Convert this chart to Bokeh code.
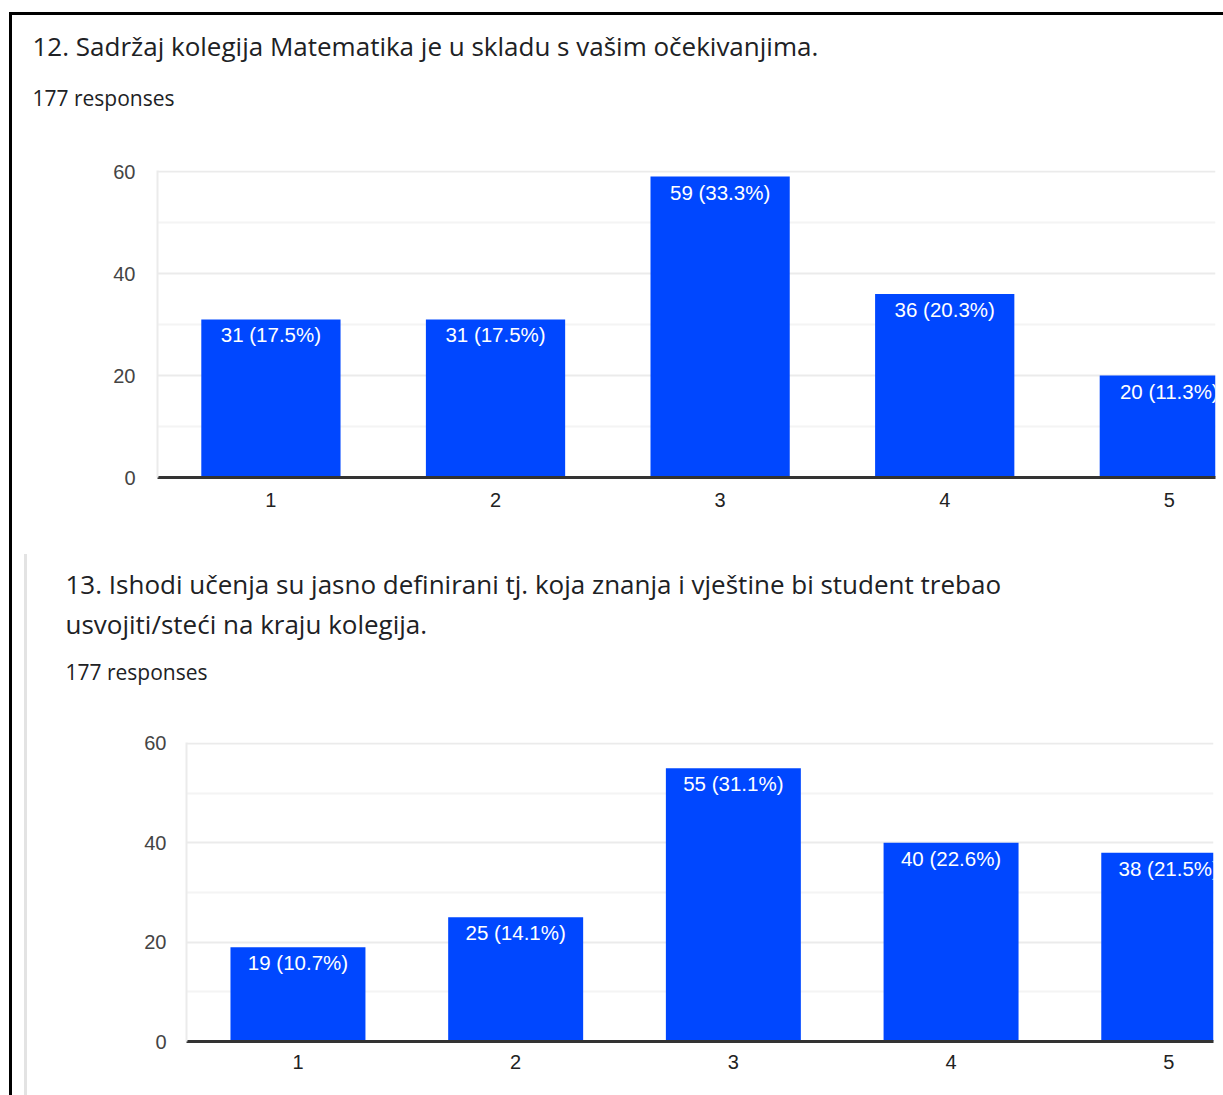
from bokeh.plotting import figure
from bokeh.layouts import column
from bokeh.models import ColumnDataSource, FixedTicker, Title
from bokeh.core.properties import value
from bokeh.embed import file_html
from bokeh.resources import INLINE

# ---- data ----
categories = ["1", "2", "3", "4", "5"]
q12_counts = [31, 31, 59, 36, 20]
q12_labels = ["31 (17.5%)", "31 (17.5%)", "59 (33.3%)", "36 (20.3%)", "20 (11.3%)"]
q13_counts = [19, 25, 55, 40, 38]
q13_labels = ["19 (10.7%)", "25 (14.1%)", "55 (31.1%)", "40 (22.6%)", "38 (21.5%)"]
y_ticks = [0, 20, 40, 60]
y_minor_ticks = [10, 30, 50]
q12_title = ["12. Sadržaj kolegija Matematika je u skladu s vašim očekivanjima."]
q13_title = ["13. Ishodi učenja su jasno definirani tj. koja znanja i vještine bi student trebao",
             "usvojiti/steći na kraju kolegija."]
responses_text = "177 responses"

BAR_COLOR = "#0047ff"
TITLE_FONT = "Open Sans"
TITLE_SIZE = 26
RESP_SIZE = 21
ASC, DESC = 1.069, 0.293   # font box metrics (em)


def make_chart(counts, labels, title_lines, title_baselines, resp_baseline, frame_top,
               title_offset, width, height, mb_left, mb_right, mb_top, mb_bottom,
               x_start, x_end, x_label_standoff, y_label_standoff, styles=None):
    xs = list(range(1, len(categories) + 1))
    src = ColumnDataSource(dict(x=xs, top=counts, label=labels))
    kw = dict(width=width, height=height, output_backend="svg", toolbar_location=None,
              x_range=(x_start, x_end), y_range=(0, 60.2), title=None,
              min_border_left=mb_left, min_border_right=mb_right,
              min_border_top=mb_top, min_border_bottom=mb_bottom)
    if styles:
        kw["styles"] = styles
    p = figure(**kw)
    p.frame_align = False
    p.outline_line_color = None
    p.background_fill_color = "white"
    p.border_fill_color = "white"

    p.vbar(x="x", top="top", width=0.62, source=src, fill_color=BAR_COLOR, line_color=None)
    p.text(x="x", y="top", text="label", source=src, text_align="center", text_baseline="top",
           y_offset=4, text_color="white", text_font=value("Liberation Sans"),
           text_font_size="20.5px")

    # axes
    p.xaxis.ticker = FixedTicker(ticks=xs)
    p.xaxis.major_label_overrides = {x: c for x, c in zip(xs, categories)}
    p.xaxis.axis_line_color = "#333333"
    p.xaxis.axis_line_width = 3
    p.xaxis.major_tick_line_color = None
    p.xaxis.minor_tick_line_color = None
    p.xaxis.major_tick_out = 0
    p.xaxis.major_tick_in = 0
    p.xaxis.major_label_standoff = x_label_standoff
    p.xaxis.major_label_text_font = "Liberation Sans"
    p.xaxis.major_label_text_font_size = "20px"
    p.xaxis.major_label_text_color = "#222222"

    p.yaxis.ticker = FixedTicker(ticks=y_ticks, minor_ticks=y_minor_ticks)
    p.yaxis.axis_line_color = "#ebebeb"
    p.yaxis.axis_line_width = 2
    p.yaxis.major_tick_line_color = None
    p.yaxis.minor_tick_line_color = None
    p.yaxis.major_tick_out = 0
    p.yaxis.major_tick_in = 0
    p.yaxis.major_label_standoff = y_label_standoff
    p.yaxis.major_label_text_font = "Liberation Sans"
    p.yaxis.major_label_text_font_size = "20px"
    p.yaxis.major_label_text_color = "#444444"

    p.xgrid.grid_line_color = None
    p.ygrid.grid_line_color = "#ebebeb"
    p.ygrid.grid_line_width = 2
    p.ygrid.minor_grid_line_color = "#f4f4f4"
    p.ygrid.minor_grid_line_width = 2

    # titles: stacked outward from the frame; standoffs chosen to hit page baselines
    # (a negative panel size is laid out as zero height)
    h_r = (ASC + DESC) * RESP_SIZE
    h_t = (ASC + DESC) * TITLE_SIZE
    s_r = 2 * (frame_top - (resp_baseline + DESC * RESP_SIZE))
    panel_top = frame_top - max(0, 2 + h_r + s_r)
    p.add_layout(Title(text=responses_text, align="left", offset=title_offset,
                       standoff=s_r, text_font=TITLE_FONT, text_font_size=f"{RESP_SIZE}px",
                       text_font_style="normal", text_color="#202124"), "above")
    for line, base in reversed(list(zip(title_lines, title_baselines))):
        s = 2 * (panel_top - (base + DESC * TITLE_SIZE))
        p.add_layout(Title(text=line, align="left", offset=title_offset, standoff=s,
                           text_font=TITLE_FONT, text_font_size=f"{TITLE_SIZE}px",
                           text_font_style="normal", text_color="#202124"), "above")
        panel_top = panel_top - max(0, 2 + h_t + s)
    return p


# chart 1: page origin (12, 15); frame left 157, right 1215, top 170, bottom 477
p1 = make_chart(q12_counts, q12_labels, q12_title, [56], 105, 170, 32 - 157,
                width=1211, height=530, mb_left=145, mb_right=8, mb_top=155, mb_bottom=68,
                x_start=0.495, x_end=0.495 + 1058 / 224.6,
                x_label_standoff=15, y_label_standoff=18)

# chart 2: page origin (27, 554); frame left 186, right 1213, top 742, bottom 1041
p2 = make_chart(q13_counts, q13_labels, q13_title, [594, 634], 679, 742, 65 - 186,
                width=1196, height=541, mb_left=159, mb_right=10, mb_top=188, mb_bottom=54,
                x_start=0.488, x_end=0.488 + 1027 / 217.7,
                x_label_standoff=13, y_label_standoff=16,
                styles={"margin-left": "12px", "margin-top": "9px",
                        "border-left": "3px solid #e3e3e3"})

layout = column(p1, p2, styles={"margin-left": "9px", "margin-top": "12px",
                               "border-left": "3px solid #000000",
                               "border-top": "3px solid #000000"})

open("out.html", "w").write(file_html(layout, INLINE))
